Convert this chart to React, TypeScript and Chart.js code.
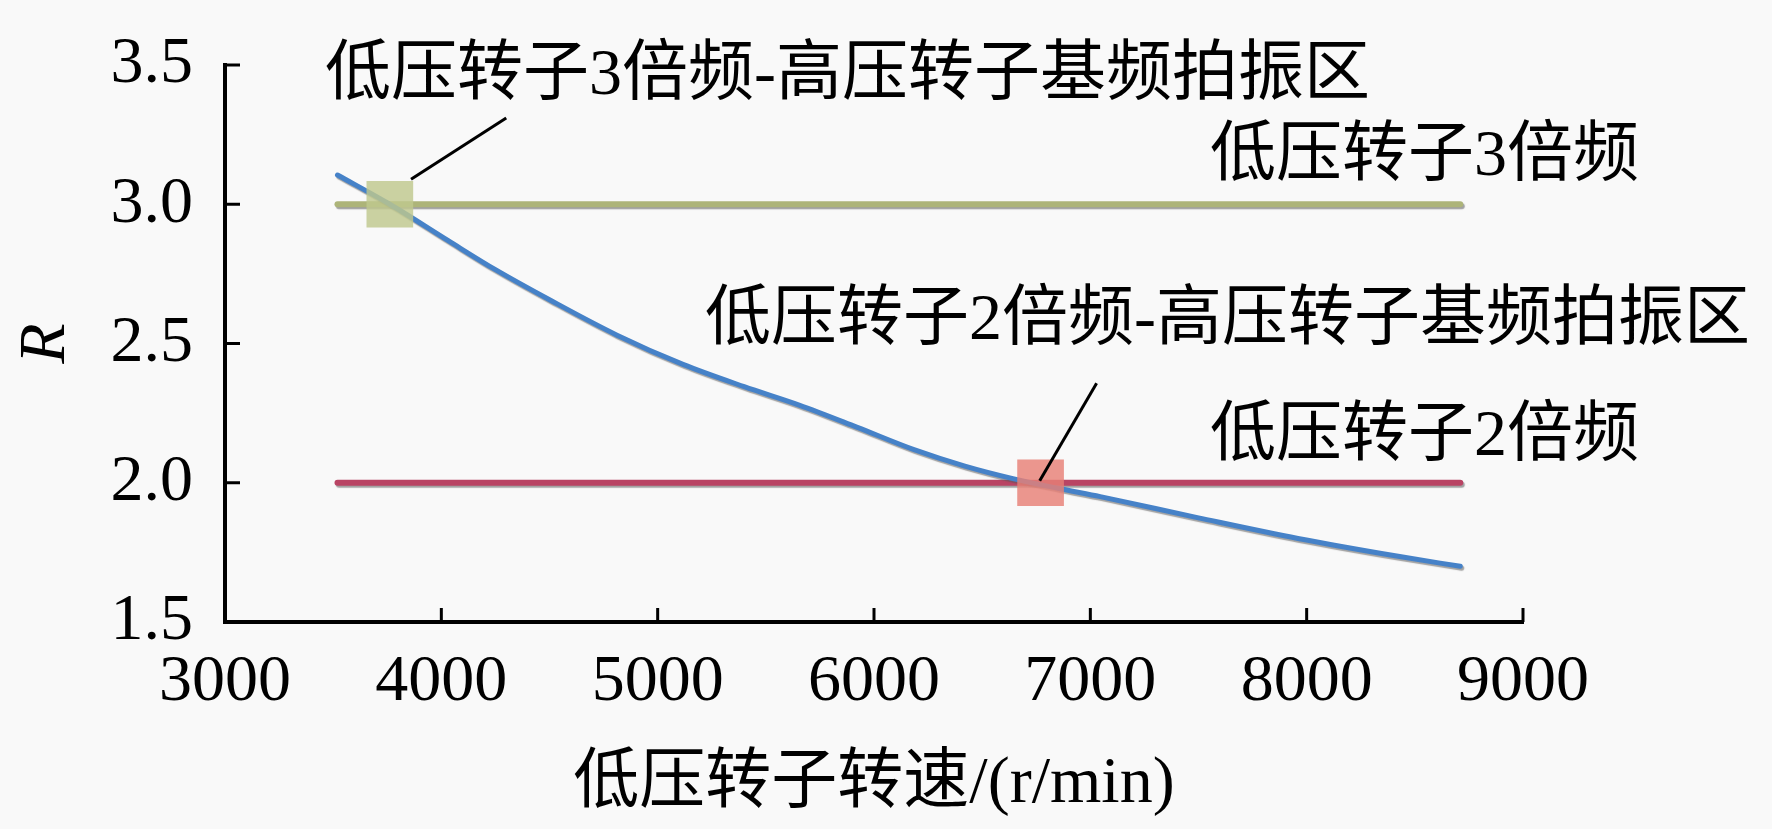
import React, { useEffect, useRef } from "react";
import { Chart, registerables } from "chart.js";

Chart.register(...registerables);

// Blue curve: speed ratio R against low-pressure rotor speed
const speed = [3520, 3762, 4030, 4250, 4500, 4812, 5117, 5400, 5654, 5920, 6185, 6420, 6642, 6850, 7046, 7500, 7960, 8430, 8710];
const ratio = [3.105, 3.0, 2.87, 2.765, 2.657, 2.53, 2.425, 2.345, 2.279, 2.2, 2.119, 2.06, 2.015, 1.98, 1.95, 1.874, 1.8, 1.735, 1.7];

// Horizontal harmonic lines
const harmonicSpan = [3520, 8710];
const lp3x = [3, 3];
const lp2x = [2, 2];

// Beat zones (squares) and their leader lines
const beat3xSpeed = [3762];
const beat3xRatio = [3.0];
const beat2xSpeed = [6770];
const beat2xRatio = [2.0];
const leader3xSpeed = [3860, 4300];
const leader3xRatio = [3.09, 3.31];
const leader2xSpeed = [6766, 7029];
const leader2xRatio = [2.007, 2.357];

// Annotation texts, anchored at their left-centre in data units
const labelTexts = [
  "低压转子3倍频-高压转子基频拍振区",
  "低压转子3倍频",
  "低压转子2倍频-高压转子基频拍振区",
  "低压转子2倍频",
];
const labelSpeed = [3462, 7553, 5219, 7553];
const labelRatio = [3.459, 3.167, 2.578, 2.163];

const xTitle = "低压转子转速/(r/min)";
const yTitle = "R";

const FONT = '"Liberation Serif", "Noto Sans CJK SC", serif';

const pts = (xs: number[], ys: number[]) => xs.map((x, i) => ({ x, y: ys[i] }));

const decorPlugin = {
  id: "decor",
  beforeDatasetDraw(chart: any, args: any) {
    const ds = chart.data.datasets[args.index];
    if (!ds.shadow) return;
    const ctx = chart.ctx;
    ctx.save();
    ctx.shadowColor = "rgba(90,90,90,0.55)";
    ctx.shadowOffsetX = 1.5;
    ctx.shadowOffsetY = 2;
    ctx.shadowBlur = 1;
  },
  afterDatasetDraw(chart: any, args: any) {
    const ds = chart.data.datasets[args.index];
    if (!ds.shadow) return;
    chart.ctx.restore();
  },
  afterDraw(chart: any) {
    const { ctx, chartArea, scales } = chart;
    const { x, y } = scales;
    ctx.save();
    // inward tick marks
    ctx.strokeStyle = "#000";
    ctx.lineWidth = 3;
    x.ticks.forEach((t: any) => {
      const px = x.getPixelForValue(t.value);
      ctx.beginPath();
      ctx.moveTo(px, chartArea.bottom);
      ctx.lineTo(px, chartArea.bottom - 14);
      ctx.stroke();
    });
    y.ticks.forEach((t: any) => {
      const py = y.getPixelForValue(t.value);
      ctx.beginPath();
      ctx.moveTo(chartArea.left, py);
      ctx.lineTo(chartArea.left + 15, py);
      ctx.stroke();
    });
    // annotation labels
    ctx.fillStyle = "#000";
    ctx.font = `66px ${FONT}`;
    ctx.textAlign = "left";
    ctx.textBaseline = "middle";
    labelTexts.forEach((txt, i) => {
      ctx.fillText(txt, x.getPixelForValue(labelSpeed[i]), y.getPixelForValue(labelRatio[i]));
    });
    ctx.restore();
  },
};

export default function App() {
  const canvasRef = useRef<HTMLCanvasElement | null>(null);

  useEffect(() => {
    document.body.style.margin = "0";
    document.body.style.background = "#f9f9f9";
    document.body.style.overflow = "hidden";
    const ctx = canvasRef.current?.getContext("2d");
    if (!ctx) return;

    const chart = new Chart(ctx, {
      type: "line",
      data: {
        datasets: [
          {
            data: pts(leader3xSpeed, leader3xRatio),
            borderColor: "#000",
            borderWidth: 3,
            pointRadius: 0,
          },
          {
            data: pts(leader2xSpeed, leader2xRatio),
            borderColor: "#000",
            borderWidth: 3,
            pointRadius: 0,
          },
          {
            data: pts(beat3xSpeed, beat3xRatio),
            showLine: false,
            pointStyle: "rect",
            pointRadius: 33,
            pointBackgroundColor: "rgba(192,200,142,0.82)",
            pointBorderWidth: 0,
          },
          {
            data: pts(beat2xSpeed, beat2xRatio),
            showLine: false,
            pointStyle: "rect",
            pointRadius: 33,
            pointBackgroundColor: "rgba(232,128,118,0.82)",
            pointBorderWidth: 0,
          },
          {
            data: pts(speed, ratio),
            borderColor: "#4682c8",
            borderWidth: 5,
            pointRadius: 0,
            cubicInterpolationMode: "monotone",
            borderCapStyle: "round",
            shadow: true,
          } as any,
          {
            data: pts(harmonicSpan, lp3x),
            borderColor: "#adb479",
            borderWidth: 6,
            pointRadius: 0,
            borderCapStyle: "round",
            shadow: true,
          } as any,
          {
            data: pts(harmonicSpan, lp2x),
            borderColor: "#b94464",
            borderWidth: 6,
            pointRadius: 0,
            borderCapStyle: "round",
            shadow: true,
          } as any,
        ],
      },
      options: {
        animation: false,
        responsive: true,
        maintainAspectRatio: false,
        events: [],
        layout: { padding: { top: 34, right: 249, left: 0, bottom: 0 } },
        plugins: {
          legend: { display: false },
          tooltip: { enabled: false },
        },
        scales: {
          x: {
            type: "linear",
            min: 3000,
            max: 9000,
            afterFit: (s: any) => {
              s.height = 207;
            },
            ticks: {
              stepSize: 1000,
              color: "#000",
              padding: 28,
              font: { family: FONT, size: 66, lineHeight: 1 },
              maxRotation: 0,
              callback: (v: any) => String(v),
            },
            grid: { display: false, drawTicks: false },
            border: { display: true, color: "#000", width: 4 },
            title: {
              display: true,
              text: xTitle,
              color: "#000",
              font: { family: FONT, size: 66, lineHeight: 1 },
              padding: { top: 0, bottom: 11 },
            },
          },
          y: {
            type: "linear",
            min: 1.5,
            max: 3.5,
            afterFit: (s: any) => {
              s.width = 225;
            },
            ticks: {
              stepSize: 0.5,
              color: "#000",
              padding: 32,
              font: { family: FONT, size: 66, lineHeight: 1 },
              callback: (v: any) => Number(v).toFixed(1),
            },
            grid: { display: false, drawTicks: false },
            border: { display: true, color: "#000", width: 4 },
            title: {
              display: true,
              text: yTitle,
              color: "#000",
              font: { family: FONT, size: 66, style: "italic", lineHeight: 1 },
              padding: { top: 14, bottom: 0 },
            },
          },
        },
      } as any,
      plugins: [decorPlugin],
    });

    return () => {
      chart.destroy();
    };
  }, []);

  return (
    <div style={{ position: "relative", width: 1772, height: 829 }}>
      <canvas ref={canvasRef} />
    </div>
  );
}
